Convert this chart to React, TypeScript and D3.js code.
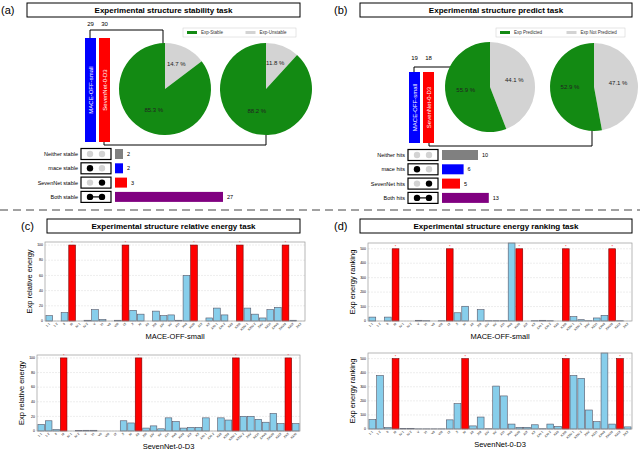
import React from 'react';
import * as d3 from 'd3';

const FONT = 'Liberation Sans, Arial, sans-serif';
const GREEN = '#138a13';
const GRAY = '#d3d3d3';
const BLUE = '#87ceeb';

// pies: [unstable / not predicted, stable / predicted] in percent
const stabilityPies = [[14.7, 85.3], [11.8, 88.2]];
const predictPies = [[44.1, 55.9], [47.1, 52.9]];
const stabilityTotals = [29, 30];
const predictTotals = [19, 18];

const stabilityRows = ['Neither stable', 'mace stable', 'SevenNet stable', 'Both stable'];
const stabilityCounts = [2, 2, 3, 27];
const predictRows = ['Neither hits', 'mace hits', 'SevenNet hits', 'Both hits'];
const predictCounts = [10, 6, 5, 13];
const rowDots = [[0, 0], [1, 0], [0, 1], [1, 1]];
const rowColors = ['#808080', '#0000ff', '#ff0000', '#800080'];

const structLabels = ['1-1', '1-2', 'II', 'III', 'IV-1', 'IV-2', 'V', 'VI', 'VII', 'VIII', 'IX', 'X', 'XI', 'XII',
  'XIII', 'XIV', 'XV', 'XVI', 'XVII', 'XVIII', 'XIX', 'XX', 'XXI-1', 'XXI-2', 'XXII', 'XXIII', 'XXIV-1',
  'XXIV-2', 'XXV', 'XXVI', 'XXVII', 'XXVIII', 'XXIX', 'XXX', 'XXXI'];

const cTopValues = [7, 0, 11, 100, 0, 1, 15, 2, 0, 1, 100, 14, 9, 0, 13, 7, 8, 1, 60, 100, 0, 4, 17, 8, 0, 100, 17, 9, 4, 15, 18, 100, 1, 0];
const cTopRed = [3, 10, 19, 25, 31];
const cBotValues = [9, 14, 2, 100, 0, 0.5, 1, 1, 0, 0, 0, 14, 11, 100, 4, 7, 3, 18, 13, 4, 5, 5, 18, 0, 18, 15, 100, 20, 20, 16, 12, 24, 10, 100, 10];
const cBotRed = [3, 13, 26, 33];
const dTopValues = [27, 0, 27, 500, 0, 0, 5, 2, 0, 2, 500, 57, 102, 0, 79, 2, 2, 2, 540, 500, 0, 2, 5, 2, 0, 500, 30, 9, 2, 21, 39, 500, 2, 0];
const dTopRed = [3, 10, 19, 25, 31];
const dBotValues = [67, 380, 10, 500, 3, 5, 1, 1, 1, 1, 65, 180, 500, 22, 85, 2, 305, 235, 35, 12, 12, 30, 2, 35, 18, 500, 380, 360, 135, 52, 540, 35, 500, 15];
const dBotRed = [3, 12, 25, 32];

const Title = ({ x, y, w, text, tag }: any) => (
  <g>
    <text x={x - 26} y={y + 11} fontSize={11} fontFamily={FONT}>{tag}</text>
    <rect x={x} y={y} width={w} height={14} fill="white" stroke="black" strokeWidth={1} />
    <text x={x + w / 2} y={y + 10} fontSize={8} fontWeight="bold" textAnchor="middle" fontFamily={FONT}>{text}</text>
  </g>
);

const Pie = ({ cx, cy, r, vals }: any) => {
  const arcs = d3.pie<number>().sort(null)(vals);
  const arc = d3.arc<any>().innerRadius(0).outerRadius(r);
  const lab = d3.arc<any>().innerRadius(r * 0.55).outerRadius(r * 0.55);
  return (
    <g transform={`translate(${cx},${cy})`}>
      {arcs.map((a, i) => (
        <g key={i}>
          <path d={arc(a)!} fill={i === 0 ? GRAY : GREEN} />
          <text x={lab.centroid(a)[0]} y={lab.centroid(a)[1]} fontSize={6} textAnchor="middle" fill="#222" fontFamily={FONT}>
            {vals[i].toFixed(1)} %
          </text>
        </g>
      ))}
    </g>
  );
};

const Legend = ({ x, y, w, labels }: any) => (
  <g fontFamily={FONT} fontSize={4.5} fill="#333">
    <rect x={x} y={y} width={w} height={9} fill="white" stroke="#ccc" strokeWidth={0.5} />
    <rect x={x + 4} y={y + 3} width={10} height={3} fill={GREEN} />
    <text x={x + 18} y={y + 6}>{labels[0]}</text>
    <rect x={x + w / 2 + 6} y={y + 3} width={10} height={3} fill={GRAY} />
    <text x={x + w / 2 + 20} y={y + 6}>{labels[1]}</text>
  </g>
);

const Upset = ({ x, y, rows, counts, unit }: any) => (
  <g fontFamily={FONT} fontSize={5.5}>
    {rows.map((r: string, i: number) => {
      const yy = y + i * 14.3;
      const d = rowDots[i];
      return (
        <g key={r}>
          <text x={x - 3} y={yy + 2} textAnchor="end">{r}</text>
          <rect x={x} y={yy - 5.5} width={30} height={11} fill="white" stroke="black" strokeWidth={1.2} />
          {d[0] && d[1] ? <line x1={x + 9} x2={x + 21} y1={yy} y2={yy} stroke="black" strokeWidth={1.2} /> : null}
          <circle cx={x + 9} cy={yy} r={3.2} fill={d[0] ? 'black' : GRAY} />
          <circle cx={x + 21} cy={yy} r={3.2} fill={d[1] ? 'black' : GRAY} />
          <rect x={x + 34} y={yy - 5} width={counts[i] * unit} height={10} fill={rowColors[i]} />
          <text x={x + 38 + counts[i] * unit} y={yy + 2}>{counts[i]}</text>
        </g>
      );
    })}
  </g>
);

const ModelBars = ({ x, y, h, totals }: any) => (
  <g fontFamily={FONT}>
    <rect x={x} y={y} width={11} height={h} fill="#0000ff" />
    <rect x={x + 14} y={y} width={11} height={h} fill="#ff0000" />
    <text transform={`translate(${x + 7.5},${y + h / 2}) rotate(-90)`} fontSize={6} fill="white" textAnchor="middle">MACE-OFF-small</text>
    <text transform={`translate(${x + 21.5},${y + h / 2}) rotate(-90)`} fontSize={6} fill="white" textAnchor="middle">SevenNet-0-D3</text>
    <text x={x + 5.5} y={y - 12} fontSize={6} textAnchor="middle">{totals[0]}</text>
    <text x={x + 19.5} y={y - 12} fontSize={6} textAnchor="middle">{totals[1]}</text>
  </g>
);

const BarChart = ({ x, y, w, h, values, red, max, ticks, ylabel, xlabel }: any) => {
  const labels = structLabels.slice(0, values.length);
  const xs = d3.scaleBand().domain(labels).range([0, w]).padding(0.12);
  const ys = d3.scaleLinear().domain([0, max]).range([h, 0]);
  const redSet = new Set(red);
  return (
    <g transform={`translate(${x},${y})`} fontFamily={FONT}>
      {ticks.map((t: number) => (
        <g key={t}>
          <line x1={0} x2={w} y1={ys(t)} y2={ys(t)} stroke="#ddd" strokeWidth={0.5} strokeDasharray="2,1" />
          <text x={-2} y={ys(t) + 1.2} fontSize={3.5} textAnchor="end">{t}</text>
        </g>
      ))}
      {values.map((v: number, i: number) => {
        const isRed = redSet.has(i);
        const top = ys(Math.min(v, max));
        return (
          <g key={i}>
            <rect x={xs(labels[i])} y={top} width={xs.bandwidth()} height={h - top}
              fill={isRed ? '#ff0000' : BLUE} stroke={isRed ? '#700' : '#556'} strokeWidth={0.6} />
            {isRed ? <text x={xs(labels[i])! + xs.bandwidth() / 2} y={top - 1} fontSize={4} fill="red" textAnchor="middle">*</text> : null}
            <text transform={`translate(${xs(labels[i])! + xs.bandwidth() / 2 + 1},${h + 3}) rotate(-45)`} fontSize={3.2} textAnchor="end">{labels[i]}</text>
          </g>
        );
      })}
      <rect x={0} y={0} width={w} height={h} fill="none" stroke="#999" strokeWidth={0.7} />
      <text transform={`translate(-13,${h / 2}) rotate(-90)`} fontSize={7.5} textAnchor="middle">{ylabel}</text>
      <text x={w / 2} y={h + 18} fontSize={7.5} textAnchor="middle">{xlabel}</text>
    </g>
  );
};

export default function App() {
  const eTicks = [0, 20, 40, 60, 80, 100];
  const rTicks = [0, 100, 200, 300, 400, 500];
  return (
    <svg width={640} height={453} style={{ position: 'absolute', left: 0, top: 0, background: 'white' }}>
      {/* (a) */}
      <Title x={27} y={3} w={273} tag="(a)" text="Experimental structure stability task" />
      <path d="M90,38 V30 H163 V44" fill="none" stroke="black" />
      <path d="M104,142 V145 H266 V135" fill="none" stroke="black" />
      <ModelBars x={85} y={38} h={104} totals={stabilityTotals} />
      <Pie cx={165} cy={89} r={46} vals={stabilityPies[0]} />
      <Pie cx={266} cy={89} r={46} vals={stabilityPies[1]} />
      <Legend x={183} y={28} w={113} labels={['Exp-Stable', 'Exp-Unstable']} />
      <Upset x={81} y={154} rows={stabilityRows} counts={stabilityCounts} unit={4} />

      {/* (b) */}
      <Title x={360} y={3} w={272} tag="(b)" text="Experimental structure predict task" />
      <path d="M414,72 V67 H455" fill="none" stroke="black" />
      <path d="M429,143 V146 H592 V130" fill="none" stroke="black" />
      <ModelBars x={409} y={72} h={71} totals={predictTotals} />
      <Pie cx={490} cy={87} r={45} vals={predictPies[0]} />
      <Pie cx={594} cy={87} r={44} vals={predictPies[1]} />
      <Legend x={496} y={28} w={129} labels={['Exp Predicted', 'Exp Not Predicted']} />
      <Upset x={408} y={155} rows={predictRows} counts={predictCounts} unit={3.6} />

      <line x1={0} x2={640} y1={210} y2={210} stroke="#444" strokeWidth={1} strokeDasharray="8,5" />

      {/* (c) */}
      <Title x={47} y={219} w={253} tag="(c)" text="Experimental structure relative energy task" />
      <BarChart x={45} y={242} w={260} h={79} values={cTopValues} red={cTopRed} max={104} ticks={eTicks} ylabel="Exp relative energy" xlabel="MACE-OFF-small" />
      <BarChart x={37} y={355} w={263} h={76} values={cBotValues} red={cBotRed} max={104} ticks={eTicks} ylabel="Exp relative energy" xlabel="SevenNet-0-D3" />

      {/* (d) */}
      <Title x={360} y={219} w={272} tag="(d)" text="Experimental structure energy ranking task" />
      <BarChart x={368} y={243} w={264} h={78} values={dTopValues} red={dTopRed} max={540} ticks={rTicks} ylabel="Exp energy ranking" xlabel="MACE-OFF-small" />
      <BarChart x={368} y={353} w={264} h={76} values={dBotValues} red={dBotRed} max={540} ticks={rTicks} ylabel="Exp energy ranking" xlabel="SevenNet-0-D3" />
    </svg>
  );
}
